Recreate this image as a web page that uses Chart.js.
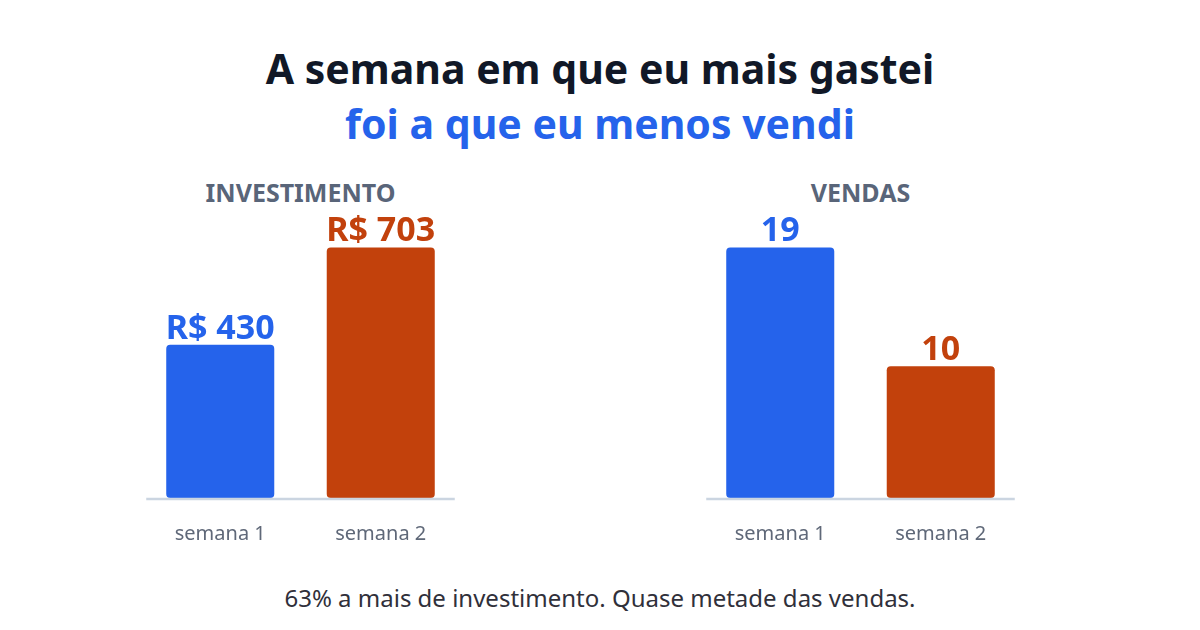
<!DOCTYPE html>
<html>
<head>
<meta charset="utf-8">
<script src="https://cdn.jsdelivr.net/npm/chart.js@4"></script>
<style>
  body { margin: 0; width: 1200px; height: 630px; background: #fff; font-family: "Noto Sans", sans-serif; position: relative; overflow: hidden; }
  .t { position: absolute; left: 0; width: 1200px; text-align: center; font-weight: 700; }
  #t1 { top: 40px; font-size: 41px; color: #111827; }
  #t2 { top: 95px; font-size: 41px; color: #2563eb; }
  .sec { position: absolute; width: 321px; text-align: center; font-weight: 700; font-size: 25px; color: #596579; top: 175px; }
  .box { position: absolute; top: 200px; width: 321px; height: 362px; }
  #foot { position: absolute; left: 0; width: 1200px; top: 581px; text-align: center; font-size: 24px; color: #30303a; }
</style>
</head>
<body>
<div class="t" id="t1">A semana em que eu mais gastei</div>
<div class="t" id="t2">foi a que eu menos vendi</div>

<div class="sec" style="left:140px">INVESTIMENTO</div>
<div class="box" style="left:140px"><canvas id="invChart"></canvas></div>

<div class="sec" style="left:700px">VENDAS</div>
<div class="box" style="left:700px"><canvas id="vendChart"></canvas></div>

<div id="foot">63% a mais de investimento. Quase metade das vendas.</div>

<script>
const semanas = ['semana 1', 'semana 2'];
const investimento = [430, 703];
const vendas = [19, 10];
const cores = ['#2563eb', '#c2410c'];

// rótulos em cima das barras + linha de base
const barLabels = {
    id: 'barLabels',
    afterDatasetsDraw(chart, args, opts) {
        const ctx = chart.ctx;
        const meta = chart.getDatasetMeta(0);
        const first = meta.data[0], last = meta.data[meta.data.length - 1];
        const baseY = chart.scales.y.getPixelForValue(0);
        ctx.save();
        ctx.strokeStyle = '#cbd5e1';
        ctx.lineWidth = 2.5;
        ctx.beginPath();
        ctx.moveTo(first.x - first.width / 2 - 20, baseY + 1);
        ctx.lineTo(last.x + last.width / 2 + 20, baseY + 1);
        ctx.stroke();

        ctx.font = 'bold 34px "Noto Sans"';
        ctx.textAlign = 'center';
        ctx.textBaseline = 'bottom';
        meta.data.forEach((bar, i) => {
            ctx.fillStyle = cores[i];
            ctx.fillText(opts.fmt(chart.data.datasets[0].data[i]), bar.x, bar.y + 1);
        });
        ctx.restore();
    }
};

function makeChart(id, values, fmt) {
    return new Chart(document.getElementById(id), {
        type: 'bar',
        data: {
            labels: semanas,
            datasets: [{
                data: values,
                backgroundColor: cores,
                borderRadius: 4,
                borderSkipped: false,
                barPercentage: 0.673,
                categoryPercentage: 1
            }]
        },
        options: {
            animation: false,
            responsive: true,
            maintainAspectRatio: false,
            layout: { padding: 0 },
            plugins: {
                legend: { display: false },
                tooltip: { enabled: false },
                barLabels: { fmt: fmt }
            },
            scales: {
                x: {
                    grid: { display: false },
                    border: { display: false },
                    ticks: { color: '#5f6878', padding: 16, font: { family: 'Noto Sans', size: 20 } }
                },
                y: {
                    display: false,
                    min: 0,
                    max: Math.max(...values) * 1.19
                }
            }
        },
        plugins: [barLabels]
    });
}

makeChart('invChart', investimento, v => 'R$ ' + v);
makeChart('vendChart', vendas, v => String(v));
</script>
</body>
</html>
